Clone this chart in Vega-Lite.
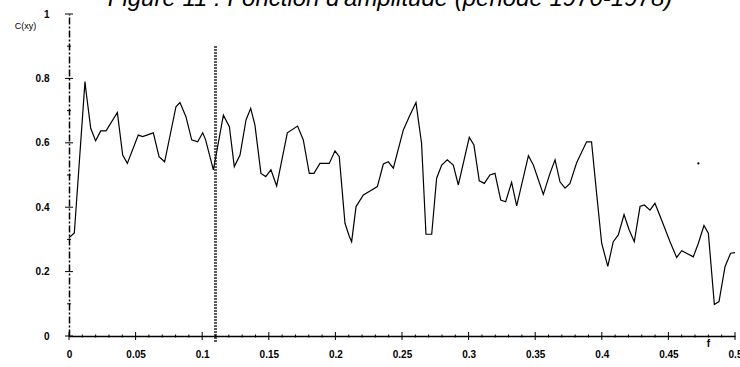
{
  "$schema": "https://vega.github.io/schema/vega-lite/v6.json",
  "width": 666,
  "height": 322,
  "autosize": {"type": "none"},
  "padding": {"left": 69, "top": 14, "right": 5, "bottom": 31},
  "background": "white",
  "title": {
    "text": "Figure 11 : Fonction d'amplitude (période 1970-1978)",
    "font": "Liberation Sans",
    "fontSize": 24,
    "fontStyle": "italic",
    "fontWeight": "normal",
    "color": "black",
    "anchor": "middle",
    "baseline": "alphabetic",
    "offset": 0,
    "dy": 21,
    "dx": -12
  },
  "config": {
    "view": {"stroke": null},
    "axis": {
      "labelFont": "Liberation Sans",
      "labelFontWeight": "bold",
      "labelFontSize": 10,
      "labelColor": "black",
      "titleFont": "Liberation Sans",
      "titleColor": "black",
      "grid": false,
      "ticks": false,
      "domainColor": "black"
    }
  },
  "datasets": {
    "curve": [
      {"f": 0.0, "c": 0.305}, {"f": 0.004, "c": 0.32}, {"f": 0.012, "c": 0.79},
      {"f": 0.0128, "c": 0.76}, {"f": 0.0163, "c": 0.645}, {"f": 0.02, "c": 0.606},
      {"f": 0.0238, "c": 0.637}, {"f": 0.0278, "c": 0.637}, {"f": 0.0363, "c": 0.694},
      {"f": 0.0403, "c": 0.562}, {"f": 0.0438, "c": 0.536}, {"f": 0.052, "c": 0.624},
      {"f": 0.0553, "c": 0.619}, {"f": 0.0633, "c": 0.631}, {"f": 0.0676, "c": 0.557},
      {"f": 0.0718, "c": 0.541}, {"f": 0.0803, "c": 0.712}, {"f": 0.0833, "c": 0.725},
      {"f": 0.0878, "c": 0.681}, {"f": 0.0921, "c": 0.609}, {"f": 0.0966, "c": 0.603},
      {"f": 0.1004, "c": 0.631}, {"f": 0.1025, "c": 0.61}, {"f": 0.1084, "c": 0.516},
      {"f": 0.1159, "c": 0.686}, {"f": 0.1204, "c": 0.65}, {"f": 0.1241, "c": 0.526},
      {"f": 0.1284, "c": 0.562}, {"f": 0.1329, "c": 0.671}, {"f": 0.1364, "c": 0.707},
      {"f": 0.1396, "c": 0.655}, {"f": 0.1441, "c": 0.505}, {"f": 0.1477, "c": 0.495},
      {"f": 0.1516, "c": 0.516}, {"f": 0.1559, "c": 0.466}, {"f": 0.1639, "c": 0.631},
      {"f": 0.1716, "c": 0.652}, {"f": 0.1759, "c": 0.609}, {"f": 0.1804, "c": 0.505},
      {"f": 0.1839, "c": 0.505}, {"f": 0.1884, "c": 0.536}, {"f": 0.1954, "c": 0.536},
      {"f": 0.1997, "c": 0.575}, {"f": 0.2029, "c": 0.557}, {"f": 0.2072, "c": 0.35},
      {"f": 0.2104, "c": 0.31}, {"f": 0.2122, "c": 0.293}, {"f": 0.2155, "c": 0.402},
      {"f": 0.221, "c": 0.438}, {"f": 0.226, "c": 0.45}, {"f": 0.2315, "c": 0.464},
      {"f": 0.236, "c": 0.534}, {"f": 0.2397, "c": 0.541}, {"f": 0.2435, "c": 0.521},
      {"f": 0.251, "c": 0.64}, {"f": 0.256, "c": 0.686}, {"f": 0.2605, "c": 0.725},
      {"f": 0.2647, "c": 0.598}, {"f": 0.268, "c": 0.316}, {"f": 0.2723, "c": 0.316},
      {"f": 0.276, "c": 0.49}, {"f": 0.2798, "c": 0.531}, {"f": 0.284, "c": 0.547},
      {"f": 0.2885, "c": 0.531}, {"f": 0.2923, "c": 0.469}, {"f": 0.3005, "c": 0.617},
      {"f": 0.304, "c": 0.593}, {"f": 0.308, "c": 0.482}, {"f": 0.3118, "c": 0.474},
      {"f": 0.316, "c": 0.5}, {"f": 0.3198, "c": 0.505}, {"f": 0.3241, "c": 0.422},
      {"f": 0.3278, "c": 0.417}, {"f": 0.3323, "c": 0.477}, {"f": 0.3361, "c": 0.404},
      {"f": 0.3449, "c": 0.56}, {"f": 0.3486, "c": 0.531}, {"f": 0.3561, "c": 0.44},
      {"f": 0.3611, "c": 0.505}, {"f": 0.3649, "c": 0.547}, {"f": 0.3686, "c": 0.479},
      {"f": 0.3724, "c": 0.459}, {"f": 0.3761, "c": 0.474}, {"f": 0.3811, "c": 0.538},
      {"f": 0.3886, "c": 0.603}, {"f": 0.3923, "c": 0.603}, {"f": 0.3961, "c": 0.443},
      {"f": 0.3999, "c": 0.288}, {"f": 0.4045, "c": 0.216}, {"f": 0.4086, "c": 0.293},
      {"f": 0.4124, "c": 0.314}, {"f": 0.4167, "c": 0.377}, {"f": 0.4205, "c": 0.33},
      {"f": 0.4244, "c": 0.293}, {"f": 0.4287, "c": 0.402}, {"f": 0.4319, "c": 0.407},
      {"f": 0.4362, "c": 0.391}, {"f": 0.4399, "c": 0.412}, {"f": 0.4449, "c": 0.36},
      {"f": 0.4512, "c": 0.293}, {"f": 0.4562, "c": 0.244}, {"f": 0.46, "c": 0.265},
      {"f": 0.4687, "c": 0.246}, {"f": 0.4725, "c": 0.288}, {"f": 0.4767, "c": 0.343},
      {"f": 0.48, "c": 0.319}, {"f": 0.4845, "c": 0.098}, {"f": 0.488, "c": 0.107},
      {"f": 0.4925, "c": 0.215}, {"f": 0.4967, "c": 0.257}, {"f": 0.5, "c": 0.259}
    ],
    "marker": [{"f": 0.110, "top": 0.9, "bottom": -0.022}],
    "speck": [{"f": 0.4725, "c": 0.536}],
    "yMajor": [{"v": 0}, {"v": 0.2}, {"v": 0.4}, {"v": 0.6}, {"v": 0.8}, {"v": 1}],
    "yMinor": [{"v": 0.1}, {"v": 0.3}, {"v": 0.5}, {"v": 0.7}, {"v": 0.9}],
    "xMajor": [
      {"v": 0}, {"v": 0.05}, {"v": 0.1}, {"v": 0.15}, {"v": 0.2}, {"v": 0.25},
      {"v": 0.3}, {"v": 0.35}, {"v": 0.4}, {"v": 0.45}, {"v": 0.5}
    ],
    "xMinor": [
      {"v": 0.01}, {"v": 0.02}, {"v": 0.03}, {"v": 0.04}, {"v": 0.06}, {"v": 0.07},
      {"v": 0.08}, {"v": 0.09}, {"v": 0.11}, {"v": 0.12}, {"v": 0.13}, {"v": 0.14},
      {"v": 0.16}, {"v": 0.17}, {"v": 0.18}, {"v": 0.19}, {"v": 0.21}, {"v": 0.22},
      {"v": 0.23}, {"v": 0.24}, {"v": 0.26}, {"v": 0.27}, {"v": 0.28}, {"v": 0.29},
      {"v": 0.31}, {"v": 0.32}, {"v": 0.33}, {"v": 0.34}, {"v": 0.36}, {"v": 0.37},
      {"v": 0.38}, {"v": 0.39}, {"v": 0.41}, {"v": 0.42}, {"v": 0.43}, {"v": 0.44},
      {"v": 0.46}, {"v": 0.47}, {"v": 0.48}, {"v": 0.49}
    ]
  },
  "layer": [
    {
      "data": {"name": "curve"},
      "mark": {"type": "line", "color": "black", "strokeWidth": 1.2, "clip": false},
      "encoding": {
        "x": {
          "field": "f",
          "type": "quantitative",
          "scale": {"domain": [0, 0.5], "nice": false, "zero": false},
          "axis": {
            "values": [0, 0.05, 0.1, 0.15, 0.2, 0.25, 0.3, 0.35, 0.4, 0.45, 0.5],
            "format": "~g",
            "labelPadding": 13,
            "labelBaseline": "top",
            "labelFlush": false,
            "domainWidth": 1.5,
            "title": "f",
            "titleFontSize": 10,
            "titleFontWeight": "bold",
            "titleX": 639,
            "titleY": 7,
            "titleBaseline": "middle",
            "titleAnchor": null,
            "titleAlign": "center"
          }
        },
        "y": {
          "field": "c",
          "type": "quantitative",
          "scale": {"domain": [0, 1], "nice": false},
          "axis": {
            "values": [0, 0.2, 0.4, 0.6, 0.8, 1],
            "format": "~g",
            "labelPadding": 20,
            "labelFlush": false,
            "domainDash": [7, 2, 2, 2],
            "domainWidth": 1.5,
            "title": "C(xy)",
            "titleAngle": 0,
            "titleFontSize": 9,
            "titleFontWeight": "normal",
            "titleX": -44,
            "titleY": 11,
            "titleAlign": "center",
            "titleBaseline": "middle"
          }
        }
      }
    },
    {
      "data": {"name": "marker"},
      "mark": {"type": "rule", "color": "#222222", "strokeWidth": 3, "strokeDash": [1.5, 1.5], "clip": false},
      "encoding": {
        "x": {"field": "f", "type": "quantitative"},
        "y": {"field": "top", "type": "quantitative"},
        "y2": {"field": "bottom"}
      }
    },
    {
      "data": {"name": "speck"},
      "mark": {"type": "point", "filled": true, "color": "black", "size": 5, "opacity": 1},
      "encoding": {
        "x": {"field": "f", "type": "quantitative"},
        "y": {"field": "c", "type": "quantitative"}
      }
    },
    {
      "data": {"name": "yMajor"},
      "mark": {"type": "tick", "orient": "horizontal", "color": "black", "size": 8, "thickness": 1, "opacity": 1},
      "encoding": {
        "x": {"datum": 0},
        "y": {"field": "v", "type": "quantitative"}
      }
    },
    {
      "data": {"name": "yMinor"},
      "mark": {"type": "tick", "orient": "horizontal", "color": "black", "size": 4, "thickness": 1, "opacity": 1},
      "encoding": {
        "x": {"datum": 0},
        "y": {"field": "v", "type": "quantitative"}
      }
    },
    {
      "data": {"name": "xMajor"},
      "mark": {"type": "tick", "orient": "vertical", "color": "black", "size": 8, "thickness": 1, "opacity": 1},
      "encoding": {
        "x": {"field": "v", "type": "quantitative"},
        "y": {"datum": 0}
      }
    },
    {
      "data": {"name": "xMinor"},
      "mark": {"type": "tick", "orient": "vertical", "color": "black", "size": 3, "thickness": 1, "opacity": 1},
      "encoding": {
        "x": {"field": "v", "type": "quantitative"},
        "y": {"datum": 0}
      }
    }
  ]
}
